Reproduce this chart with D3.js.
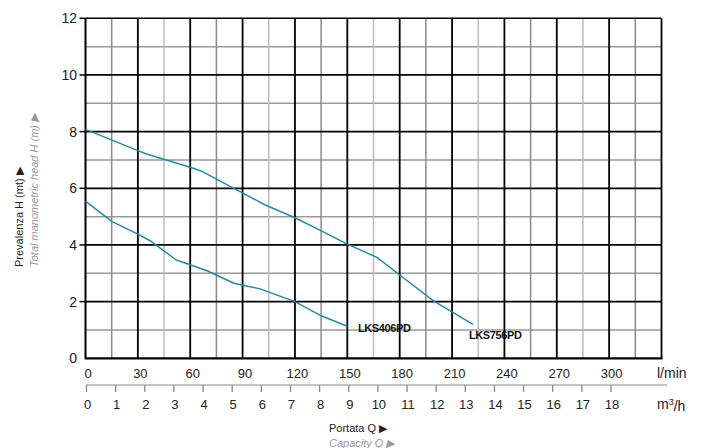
<!DOCTYPE html>
<html><head><meta charset="utf-8">
<script src="https://cdn.jsdelivr.net/npm/d3@7"></script>
<style>body{margin:0;background:#fff}svg{display:block;font-family:"Liberation Sans",Arial,sans-serif}</style>
</head><body><div id="c"></div>
<script>
// Data (flow in l/min, head in m)
const seriesNames = ["LKS406PD", "LKS756PD"];
const flowLKS406 = [0, 15, 30, 37, 52, 60, 70, 85, 100, 120, 134, 150];
const headLKS406 = [5.55, 4.83, 4.38, 4.15, 3.47, 3.3, 3.08, 2.65, 2.45, 2.0, 1.53, 1.13];
const flowLKS756 = [0, 30, 35, 60, 67, 85, 103, 120, 134, 150, 167, 180, 200, 210, 222];
const headLKS756 = [8.08, 7.33, 7.21, 6.74, 6.59, 6.0, 5.41, 4.96, 4.53, 4.03, 3.56, 2.94, 2.0, 1.64, 1.2];
const yTicks = [0, 2, 4, 6, 8, 10, 12];
const lminTicks = [0, 30, 60, 90, 120, 150, 180, 210, 240, 270, 300];
const m3hTicks = [0,1,2,3,4,5,6,7,8,9,10,11,12,13,14,15,16,17,18];

const W = 701, H = 448;
const svg = d3.select("#c").append("svg").attr("width", W).attr("height", H);
const x = d3.scaleLinear().domain([0, 330]).range([85.5, 661.5]);
const y = d3.scaleLinear().domain([0, 12]).range([358.3, 18.3]);
const xm = d3.scaleLinear().domain([0, 18]).range([86.5, 611]);

const g = svg.append("g");
// minor horizontal grid (odd)
d3.range(1, 12, 2).forEach(v => {
  g.append("line").attr("x1", x(0)).attr("x2", x(330)).attr("y1", y(v)).attr("y2", y(v))
   .attr("stroke", "#999").attr("stroke-width", 1.5);
});
// minor vertical grid (every 15, odd multiples)
d3.range(15, 330, 30).forEach((v, i) => {
  g.append("line").attr("x1", x(v)).attr("x2", x(v)).attr("y1", y(0)).attr("y2", y(12))
   .attr("stroke", i % 2 === 0 ? "#8a8a8a" : "#bdbdbd").attr("stroke-width", 1.5);
});
// major horizontal
d3.range(2, 13, 2).forEach(v => {
  g.append("line").attr("x1", x(0)).attr("x2", x(330)).attr("y1", y(v)).attr("y2", y(v))
   .attr("stroke", "#000").attr("stroke-width", v === 12 ? 1.5 : 1.8);
});
// major vertical
d3.range(30, 331, 30).forEach(v => {
  g.append("line").attr("x1", x(v)).attr("x2", x(v)).attr("y1", y(0)).attr("y2", y(12))
   .attr("stroke", "#000").attr("stroke-width", 1.8);
});
// left & bottom borders
g.append("line").attr("x1", x(0)).attr("x2", x(0)).attr("y1", y(0)+1).attr("y2", y(12))
 .attr("stroke", "#000").attr("stroke-width", 2);
g.append("line").attr("x1", x(0)).attr("x2", x(330)+1).attr("y1", y(0)).attr("y2", y(0))
 .attr("stroke", "#000").attr("stroke-width", 2.2);

// Y axis ticks & labels
yTicks.forEach(v => {
  if (v > 0) g.append("line").attr("x1", x(0)-6).attr("x2", x(0)).attr("y1", y(v)).attr("y2", y(v))
    .attr("stroke", "#000").attr("stroke-width", 1.5);
  g.append("text").attr("x", 77).attr("y", y(v)).attr("dy", "0.36em").attr("text-anchor", "end")
   .attr("font-size", 14).attr("fill", "#222").text(v);
});

// l/min labels
lminTicks.forEach(v => {
  g.append("text").attr("x", x(v) + 2.5).attr("y", 373).attr("dy", "0.36em").attr("text-anchor", "middle")
   .attr("font-size", 13).attr("fill", "#222").text(v);
});
g.append("text").attr("x", 657).attr("y", 373).attr("dy", "0.36em").attr("font-size", 14)
 .attr("fill", "#222").text("l/min");

// m3/h axis
g.append("line").attr("x1", 86).attr("x2", 667).attr("y1", 385).attr("y2", 385)
 .attr("stroke", "#888").attr("stroke-width", 1);
m3hTicks.forEach(v => {
  g.append("line").attr("x1", xm(v)).attr("x2", xm(v)).attr("y1", 385).attr("y2", 392)
   .attr("stroke", "#888").attr("stroke-width", 1.3);
  g.append("text").attr("x", xm(v) + 1).attr("y", 404).attr("dy", "0.36em").attr("text-anchor", "middle")
   .attr("font-size", 13).attr("fill", "#222").text(v);
});
const m3 = g.append("text").attr("x", 657).attr("y", 404).attr("dy", "0.36em").attr("font-size", 14).attr("fill", "#222");
m3.append("tspan").text("m");
m3.append("tspan").attr("dy", "-0.45em").attr("font-size", 9).text("3");
m3.append("tspan").attr("dy", "0.45em").text("/h");

// Axis titles
g.append("text").attr("x", 329).attr("y", 428).attr("dy", "0.36em").attr("font-size", 11)
 .attr("fill", "#222").text("Portata Q \u25B6");
g.append("text").attr("x", 329).attr("y", 443).attr("dy", "0.36em").attr("font-size", 11)
 .attr("font-style", "italic").attr("fill", "#999").text("Capacity Q \u25B6");
g.append("text").attr("transform", "translate(19,267) rotate(-90)").attr("dy", "0.36em")
 .attr("font-size", 11).attr("fill", "#222").text("Prevalenza H (mt) \u25B6");
g.append("text").attr("transform", "translate(34,267) rotate(-90)").attr("dy", "0.36em")
 .attr("font-size", 11).attr("font-style", "italic").attr("fill", "#999").text("Total manometric head H (m) \u25B6");

// Curves
const line = d3.line().x(d => x(d[0])).y(d => y(d[1]));
const curves = [
  {name: seriesNames[0], pts: d3.zip(flowLKS406, headLKS406), lx: 358, ly: 328},
  {name: seriesNames[1], pts: d3.zip(flowLKS756, headLKS756), lx: 469, ly: 335}
];
curves.forEach(c => {
  g.append("path").attr("d", line(c.pts)).attr("fill", "none").attr("stroke", "#1f8bab")
   .attr("stroke-width", 1.5).attr("stroke-linejoin", "round");
  g.append("text").attr("x", c.lx).attr("y", c.ly).attr("dy", "0.36em").attr("font-size", 11)
   .attr("font-weight", "bold").attr("letter-spacing", -0.4).attr("fill", "#111").text(c.name);
});
</script></body></html>
